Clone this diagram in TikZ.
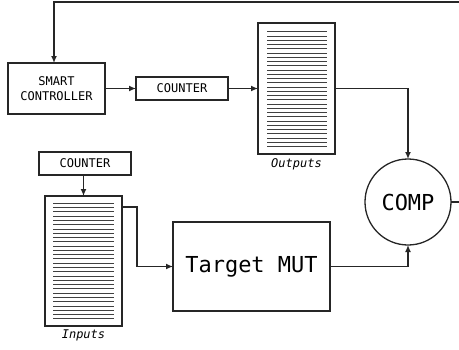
\documentclass[tikz,border=0pt]{standalone}
\usepackage{fontspec}
\setmonofont{DejaVu Sans Mono}[ItalicFont={DejaVu Sans Mono Oblique}]
\usetikzlibrary{arrows.meta,calc}
\begin{document}
\begin{tikzpicture}[x=1pt,y=-1pt,
  font=\ttfamily,
  every node/.style={inner sep=0pt,outer sep=0pt},
  wire/.style={line width=1.3pt,draw=black!85},
  arr/.style={wire,-{Latex[length=7pt,width=6pt]}},
  blockbox/.style={draw=black!85,line width=1.3pt,rectangle,align=center},
  docbox/.style={draw=black!85,line width=1.3pt,rectangle,minimum width=77pt},
  stripe/.style={line width=0.9pt,draw=black!75},
  caption/.style={font=\ttfamily\itshape\fontsize{12}{14}\selectfont}]
\useasboundingbox (0,0) rectangle (459,349);

% blocks
\node[blockbox,minimum width=97pt,minimum height=51pt,
      font=\ttfamily\fontsize{12}{15}\selectfont] (sc) at (56.5,88.5) {SMART\\CONTROLLER};
\node[blockbox,minimum width=92pt,minimum height=23pt,
      font=\ttfamily\fontsize{12}{14}\selectfont] (cnt1) at (182,88.5) {COUNTER};
\node[blockbox,minimum width=92pt,minimum height=23pt,
      font=\ttfamily\fontsize{12}{14}\selectfont] (cnt2) at (85,163.5) {COUNTER};
\node[docbox,minimum height=131pt] (outs) at (296.5,88.5) {};
\node[docbox,minimum height=130pt] (ins) at (83.5,261) {};
\node[blockbox,minimum width=157pt,minimum height=89pt,
      font=\ttfamily\fontsize{22}{24}\selectfont] (mut) at (251.5,266.5) {Target MUT};
\node[draw=black!85,line width=1.3pt,circle,minimum size=86pt,
      font=\ttfamily\fontsize{22}{24}\selectfont] (comp) at (408,202) {COMP};

% captions under the data sheets
\node[caption] (outlbl) at (296.5,164) {Outputs};
\node[caption] (inlbl) at (83.5,335) {Inputs};

% ruled lines inside the data sheets
\foreach \k in {0,...,27} {
  \draw[stripe] ($(outs.north west)+(9,8.7+4.26*\k)$) -- ($(outs.north east)+(-8,8.7+4.26*\k)$);
  \draw[stripe] ($(ins.north west)+(8,7.3+4.28*\k)$) -- ($(ins.north east)+(-8,7.3+4.28*\k)$);
}

% free ends of the feedback loop
\coordinate (fbin) at (459,2);
\coordinate (fbturn) at (54,2);
\coordinate (fbout) at (459,202);
\coordinate (insout) at ($(ins.north east)+(0,11)$);
\coordinate (insturn) at (137,0);

% connectors
\draw[arr] (fbin) -- (fbturn) -- (fbturn |- sc.north);
\draw[arr] (sc.east |- cnt1.west) -- (cnt1.west);
\draw[arr] (cnt1.east) -- (outs.west);
\draw[arr] (outs.east) -| (comp.north);
\draw[arr] (ins.north |- cnt2.south) -- (ins.north);
\draw[arr] (insout) -- (insturn |- insout) |- (mut.west);
\draw[arr] (mut.east) -| (comp.south);
\draw[wire] (comp.east) -- (fbout);
\end{tikzpicture}
\end{document}
